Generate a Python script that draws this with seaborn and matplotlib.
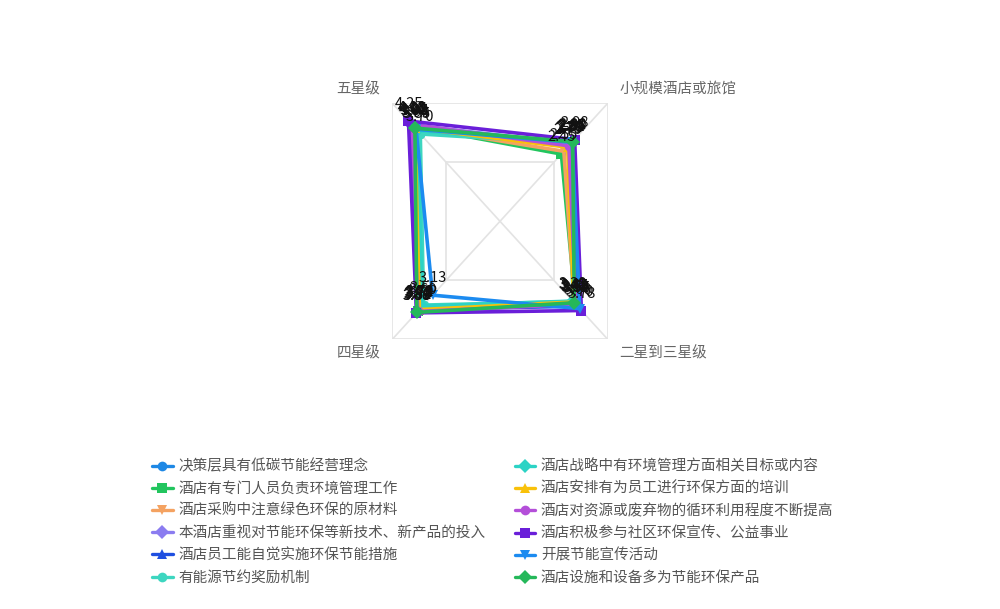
import numpy as np
import pandas as pd
import matplotlib
matplotlib.use('Agg')
import matplotlib.pyplot as plt
import seaborn as sns
from matplotlib.lines import Line2D

# ---------------- data ----------------
indicators = ['五星级', '四星级', '二星到三星级', '小规模酒店或旅馆']
indicator_max = [5, 5, 5, 4.3]
indicator_angles = [135, 225, 315, 45]

series_names = [
    '决策层具有低碳节能经营理念',
    '酒店有专门人员负责环境管理工作',
    '酒店采购中注意绿色环保的原材料',
    '本酒店重视对节能环保等新技术、新产品的投入',
    '酒店员工能自觉实施环保节能措施',
    '有能源节约奖励机制',
    '酒店战略中有环境管理方面相关目标或内容',
    '酒店安排有为员工进行环保方面的培训',
    '酒店对资源或废弃物的循环利用程度不断提高',
    '酒店积极参与社区环保宣传、公益事业',
    '开展节能宣传活动',
    '酒店设施和设备多为节能环保产品',
]
five_star      = [4.05, 4.02, 4.00, 4.08, 3.98, 3.70, 3.85, 3.95, 4.10, 4.25, 3.90, 3.95]
four_star      = [3.75, 3.80, 3.70, 3.78, 3.72, 3.55, 3.60, 3.74, 3.82, 3.88, 3.13, 3.86]
two_three_star = [3.55, 3.50, 3.45, 3.48, 3.60, 3.40, 3.38, 3.42, 3.52, 3.78, 3.70, 3.45]
small_scale    = [2.84, 2.45, 2.55, 2.80, 2.78, 2.85, 2.82, 2.70, 2.75, 2.98, 2.88, 2.90]

colors = ['#1E88E5', '#22C55E', '#F4A261', '#8B7CF0', '#1F4FE0', '#3DD6C0',
          '#2CD3C5', '#F9C10A', '#B44FD9', '#6A1FD9', '#1C8BF0', '#25B85A']
markers = ['o', 's', 'v', 'D', '^', 'o', 'D', '^', 'o', 's', 'v', 'D']

# ---------------- build table ----------------
values_by_axis = [five_star, four_star, two_three_star, small_scale]
rows = []
for i, name in enumerate(series_names):
    for k, j in enumerate([0, 1, 2, 3, 0]):
        v = values_by_axis[j][i]
        a = np.deg2rad(indicator_angles[j])
        f = v / indicator_max[j]
        rows.append(dict(series=name, order=k, value=v, axis=indicators[j],
                         x=f * np.sqrt(2) * np.cos(a), y=f * np.sqrt(2) * np.sin(a)))
df = pd.DataFrame(rows)

# ---------------- style ----------------
sns.set_theme(style='white')
plt.rcParams['font.family'] = ['Noto Sans CJK SC', 'DejaVu Sans']

fig = plt.figure(figsize=(10, 6.09), dpi=100)
cx, cy, hx, hy = 500, 221.3, 107.7, 118.0
ax = fig.add_axes([(cx - hx) / 1000, (609 - cy - hy) / 609, 2 * hx / 1000, 2 * hy / 609])
ax.set_xlim(-1, 1)
ax.set_ylim(-1, 1)
ax.axis('off')

# grid
grid_c = '#E3E3E3'
for s in [0.5, 1.0]:
    ax.plot([-s, s, s, -s, -s], [-s, -s, s, s, -s], color=grid_c, lw=1.2, zorder=0)
ax.plot([-1, 1], [-1, 1], color=grid_c, lw=1.2, zorder=0)
ax.plot([-1, 1], [1, -1], color=grid_c, lw=1.2, zorder=0)

# indicator names
for name, ang in zip(indicators, indicator_angles):
    a = np.deg2rad(ang)
    sx, sy = np.sign(np.cos(a)), np.sign(np.sin(a))
    ax.text(1.11 * sx, 1.12 * sy, name, ha='left' if sx > 0 else 'right', va='center',
            fontsize=10.5, color='#666666', clip_on=False)

# series lines
palette = dict(zip(series_names, colors))
marker_map = dict(zip(series_names, markers))
sns.lineplot(data=df, x='x', y='y', hue='series', style='series', hue_order=series_names,
             style_order=series_names, palette=palette, markers=marker_map, dashes=False,
             sort=False, estimator=None, units='series', lw=2.6, markersize=7,
             markeredgewidth=0, legend=False, ax=ax, clip_on=False)
for ln in ax.lines[5:]:
    ln.set_clip_on(False)

# value labels
for _, r in df[df['order'] < 4].iterrows():
    ax.annotate(f"{r['value']:.2f}", (r['x'], r['y']), xytext=(0, 7), textcoords='offset points',
                ha='center', va='bottom', fontsize=10.5, color='#111111', annotation_clip=False)

# legend
handles = [Line2D([0], [0], color=c, marker=m, lw=2.4, markersize=7, markeredgewidth=0)
           for c, m in zip(colors, markers)]
fig.legend(handles, series_names, ncol=2, loc='upper left',
           bbox_to_anchor=(139 / 1000, 1 - 446 / 609), frameon=False, fontsize=10.5,
           handlelength=1.4, handletextpad=0.4, labelspacing=0.56, columnspacing=2.0,
           labelcolor='#555555')

fig.savefig('out.png', dpi=100)
